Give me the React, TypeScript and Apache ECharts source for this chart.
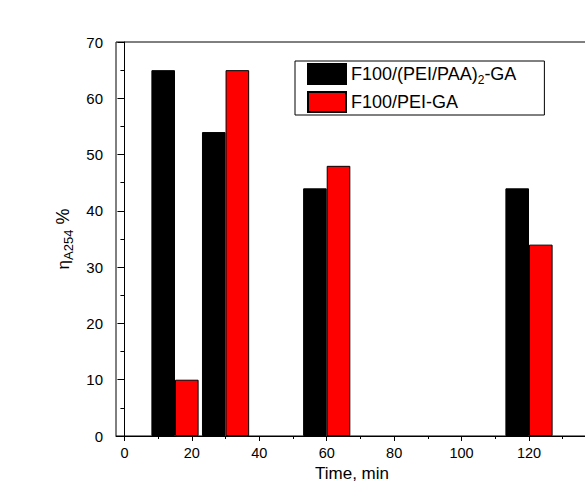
import React, { useEffect, useRef } from "react";
import * as echarts from "echarts";

const times = [15, 30, 60, 120];
const seriesA = [65, 54, 44, 44]; // F100/(PEI/PAA)2-GA
const seriesB = [10, 65, 48, 34]; // F100/PEI-GA
const xMajorTicks = [0, 20, 40, 60, 80, 100, 120];
const xMinorTicks = [10, 30, 50, 70, 90, 110, 130];

export default function App() {
  const ref = useRef<HTMLDivElement>(null);
  useEffect(() => {
    document.body.style.margin = "0";
    const chart = echarts.init(ref.current!, null, { renderer: "svg" });
    const font = "Arial, 'Liberation Sans', sans-serif";
    const xMin = -2.5;
    const xMax = 137.5;
    chart.setOption({
      animation: false,
      backgroundColor: "#fff",
      textStyle: { fontFamily: font },
      grid: {
        left: 116,
        top: 42,
        bottom: 46,
        right: -3,
        outerBoundsMode: "none",
        containLabel: false,
        show: true,
        borderColor: "#000",
        borderWidth: 1,
        backgroundColor: "transparent",
      },
      legend: {
        orient: "vertical",
        left: 295,
        top: 61,
        padding: [2, 28, 2, 12],
        itemGap: 5,
        itemWidth: 38,
        itemHeight: 20,
        icon: "rect",
        borderColor: "#000",
        borderWidth: 1,
        data: ["A", "B"],
        formatter: (n: string) =>
          n === "A" ? "{a|F100/(PEI/PAA)}{s|2}{a|-GA}" : "{a|F100/PEI-GA}",
        textStyle: {
          fontFamily: font,
          rich: {
            a: { fontSize: 18, color: "#000", fontFamily: font, lineHeight: 24, verticalAlign: "middle" },
            s: { fontSize: 12, color: "#000", fontFamily: font, lineHeight: 12, verticalAlign: "bottom" },
          },
        },
      },
      xAxis: [
        {
          type: "value",
          min: xMin,
          max: xMax,
          position: "bottom",
          name: "Time, min",
          nameLocation: "middle",
          nameGap: 27,
          nameTextStyle: { fontSize: 17, color: "#000", fontFamily: font },
          axisLine: { show: true, lineStyle: { color: "#000", width: 1 } },
          axisTick: { show: true, inside: false, length: 5, customValues: xMajorTicks, lineStyle: { color: "#000" } },
          axisLabel: { show: true, customValues: xMajorTicks, fontSize: 14.5, color: "#000", margin: 9, fontFamily: font },
          splitLine: { show: false },
        },
        {
          type: "value",
          min: xMin,
          max: xMax,
          position: "bottom",
          axisLine: { show: false },
          axisTick: { show: true, inside: false, length: 3, customValues: xMinorTicks, lineStyle: { color: "#000" } },
          axisLabel: { show: false },
          splitLine: { show: false },
        },
      ],
      yAxis: {
        type: "value",
        min: 0,
        max: 70,
        interval: 10,
        name: "{e|η}{s|A254}{p| %}",
        nameLocation: "middle",
        nameRotate: 90,
        nameGap: 40,
        nameTextStyle: {
          color: "#000",
          rich: {
            e: { fontSize: 17, color: "#000", fontFamily: font, lineHeight: 24, verticalAlign: "middle" },
            s: { fontSize: 13, color: "#000", fontFamily: font, lineHeight: 12, verticalAlign: "bottom" },
            p: { fontSize: 18, color: "#000", fontFamily: font, lineHeight: 24, verticalAlign: "middle" },
          },
        },
        axisLine: { show: true, lineStyle: { color: "#000", width: 1 } },
        axisTick: { show: true, inside: false, length: 7, lineStyle: { color: "#000" } },
        minorTick: { show: true, splitNumber: 2, length: 4, lineStyle: { color: "#000" } },
        axisLabel: { fontSize: 15, color: "#000", margin: 13, fontFamily: font },
        splitLine: { show: false },
      },
      series: [
        {
          name: "A",
          type: "bar",
          xAxisIndex: 0,
          data: times.map((t, i) => [t, seriesA[i]]),
          barWidth: 23.6,
          barGap: "0%",
          itemStyle: { color: "#000", borderColor: "#000", borderWidth: 1 },
        },
        {
          name: "B",
          type: "bar",
          xAxisIndex: 0,
          data: times.map((t, i) => [t, seriesB[i]]),
          barWidth: 23.6,
          barGap: "0%",
          itemStyle: { color: "#ff0000", borderColor: "#000", borderWidth: 1 },
        },
      ],
    });
    return () => chart.dispose();
  }, []);
  return <div ref={ref} style={{ width: 585, height: 482 }} />;
}
